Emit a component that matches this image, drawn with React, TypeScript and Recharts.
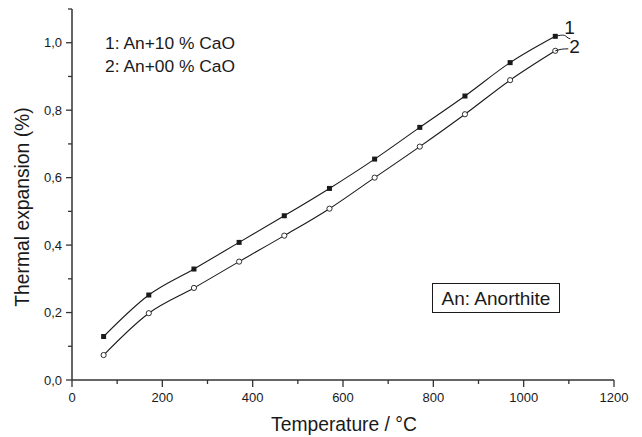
import React from 'react';
import { ComposedChart, Line, XAxis, YAxis, Customized } from 'recharts';

const temperatures = [70, 170, 270, 370, 470, 570, 670, 770, 870, 970, 1070];
const expansionCaO10 = [0.129, 0.252, 0.329, 0.408, 0.487, 0.568, 0.655, 0.749, 0.842, 0.941, 1.019];
const expansionCaO00 = [0.074, 0.198, 0.273, 0.351, 0.428, 0.508, 0.6, 0.692, 0.788, 0.889, 0.976];

const xTicks = [0, 100, 200, 300, 400, 500, 600, 700, 800, 900, 1000, 1100, 1200];
const yTicks = [0, 0.1, 0.2, 0.3, 0.4, 0.5, 0.6, 0.7, 0.8, 0.9, 1.0, 1.1];

const legendLines = ['1: An+10 % CaO', '2: An+00 % CaO'];
const noteText = 'An: Anorthite';
const xTitle = 'Temperature / °C';
const yTitle = 'Thermal expansion (%)';

const data = temperatures.map((t, i) => ({
  t,
  s1: expansionCaO10[i],
  s2: expansionCaO00[i],
}));

const W = 642;
const H = 437;
const PLOT_LEFT = 72;
const PLOT_RIGHT = 614;
const PLOT_TOP = 9;
const PLOT_BOTTOM = 380;
const FONT = 'Liberation Sans, Arial, sans-serif';
const INK = '#1a1a1a';

function XTick(props: any) {
  const { x, y, payload } = props;
  const major = payload.value % 200 === 0;
  return (
    <g>
      <line x1={x} y1={y} x2={x} y2={y + (major ? 7 : 4)} stroke="#333" strokeWidth={1.3} />
      {major && (
        <text x={x} y={y + 22} textAnchor="middle" fontSize={13} fontFamily={FONT} fill={INK}>
          {payload.value}
        </text>
      )}
    </g>
  );
}

function YTick(props: any) {
  const { x, y, payload } = props;
  const v = payload.value as number;
  const major = Math.round(v * 10) % 2 === 0 && v <= 1.0001;
  return (
    <g>
      <line x1={x} y1={y} x2={x - (major ? 6 : 4)} y2={y} stroke="#333" strokeWidth={1.3} />
      {major && (
        <text x={x - 10} y={y + 4.5} textAnchor="end" fontSize={13} fontFamily={FONT} fill={INK}>
          {v.toFixed(1).replace('.', ',')}
        </text>
      )}
    </g>
  );
}

function SquareDot(props: any) {
  const { cx, cy } = props;
  if (cx == null || cy == null) return null;
  return <rect x={cx - 2.5} y={cy - 2.5} width={5} height={5} fill={INK} />;
}

function CircleDot(props: any) {
  const { cx, cy } = props;
  if (cx == null || cy == null) return null;
  return <circle cx={cx} cy={cy} r={2.6} fill="#fff" stroke={INK} strokeWidth={0.9} />;
}

function EndLabel1(props: any) {
  const { x, y, index } = props;
  if (index !== temperatures.length - 1) return null;
  return (
    <g>
      <path d={`M${x} ${y} C${x + 4} ${y - 1} ${x + 7} ${y - 1.5} ${x + 9} ${y - 1} S${x + 12} ${y + 2} ${x + 15} ${y + 2.5}`} fill="none" stroke={INK} strokeWidth={1} />
      <text x={x + 9} y={y - 2} fontSize={19} fontFamily={FONT} fill={INK}>1</text>
    </g>
  );
}

function EndLabel2(props: any) {
  const { x, y, index } = props;
  if (index !== temperatures.length - 1) return null;
  return (
    <g>
      <path d={`M${x} ${y} C${x + 4} ${y - 1.5} ${x + 8} ${y - 2} ${x + 13} ${y - 2}`} fill="none" stroke={INK} strokeWidth={1} />
      <text x={x + 14} y={y + 2} fontSize={19} fontFamily={FONT} fill={INK}>2</text>
    </g>
  );
}

function Annotations() {
  return (
    <g fontFamily={FONT} fill={INK}>
      <text x={105} y={49} fontSize={17.4}>{legendLines[0]}</text>
      <text x={105} y={72} fontSize={17.4}>{legendLines[1]}</text>
      <rect x={432.5} y={283.5} width={127} height={29} fill="#fff" stroke={INK} strokeWidth={1} />
      <text x={496} y={304.5} fontSize={19} textAnchor="middle">{noteText}</text>
      <text x={344} y={430.5} fontSize={19.3} textAnchor="middle">{xTitle}</text>
      <text x={29} y={207} fontSize={19.3} textAnchor="middle" transform="rotate(-90 29 207)">{yTitle}</text>
    </g>
  );
}

export default function App() {
  return (
    <div style={{ position: 'absolute', left: 0, top: 0, width: W, height: H, background: '#fff' }}>
      <ComposedChart
        width={W}
        height={H}
        data={data}
        margin={{ top: PLOT_TOP, right: W - PLOT_RIGHT, bottom: 0, left: 0 }}
      >
        <XAxis
          dataKey="t"
          type="number"
          domain={[0, 1200]}
          ticks={xTicks}
          interval={0}
          height={H - PLOT_BOTTOM}
          tickSize={0}
          tickMargin={0}
          tickLine={false}
          tick={<XTick />}
          axisLine={{ stroke: '#333', strokeWidth: 1.5 }}
        />
        <XAxis
          xAxisId="top"
          orientation="top"
          dataKey="t"
          type="number"
          domain={[0, 1200]}
          height={0}
          tick={false}
          tickLine={false}
          axisLine={{ stroke: '#888', strokeWidth: 1.5 }}
        />
        <YAxis
          type="number"
          domain={[0, 1.1]}
          ticks={yTicks}
          interval={0}
          width={PLOT_LEFT}
          tickSize={0}
          tickMargin={0}
          tickLine={false}
          tick={<YTick />}
          axisLine={{ stroke: '#333', strokeWidth: 1.5 }}
        />
        <YAxis
          yAxisId="right"
          orientation="right"
          type="number"
          domain={[0, 1.1]}
          width={0}
          tick={false}
          tickLine={false}
          axisLine={{ stroke: '#888', strokeWidth: 1.5 }}
        />
        <Line
          type="monotone"
          dataKey="s1"
          stroke={INK}
          strokeWidth={1.1}
          dot={<SquareDot />}
          activeDot={false}
          label={<EndLabel1 />}
          isAnimationActive={false}
        />
        <Line
          type="monotone"
          dataKey="s2"
          stroke={INK}
          strokeWidth={1.1}
          dot={<CircleDot />}
          activeDot={false}
          label={<EndLabel2 />}
          isAnimationActive={false}
        />
        <Customized component={<Annotations />} />
      </ComposedChart>
    </div>
  );
}
